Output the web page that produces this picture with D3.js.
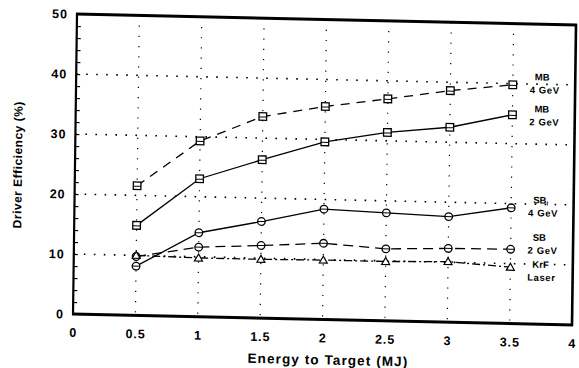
<!DOCTYPE html>
<html>
<head>
<meta charset="utf-8">
<script src="https://cdn.jsdelivr.net/npm/d3@7"></script>
<style>
body { margin: 0; background: #fff; }
text { font-family: "Liberation Sans", Arial, sans-serif; font-weight: bold; fill: #000; }
</style>
</head>
<body>
<div id="chart"></div>
<script>
// values
const energy = [0.5, 1, 1.5, 2, 2.5, 3, 3.5];
const mb4 = [21.6, 29.3, 33.6, 35.5, 37.0, 38.6, 39.8];
const mb2 = [15.0, 23.0, 26.4, 29.6, 31.4, 32.5, 34.8];
const sb4 = [8.2, 14.0, 16.1, 18.4, 18.0, 17.6, 19.3];
const sb2 = [9.8, 11.6, 12.1, 12.7, 12.0, 12.3, 12.4];
const krf = [10.0, 9.8, 9.8, 9.9, 9.9, 10.1, 9.4];
const xTicks = [0, 0.5, 1, 1.5, 2, 2.5, 3, 3.5, 4];
const yTicks = [0, 10, 20, 30, 40, 50];
const gridX = [0.5, 1, 1.5, 2, 2.5, 3, 3.5];
const gridY = [10, 20, 30, 40];

const series = [
    {values: mb4, label: ["MB", "4 GeV"], dash: "9,7", marker: "square"},
    {values: mb2, label: ["MB", "2 GeV"], dash: null, marker: "square"},
    {values: sb4, label: ["SB", "4 GeV"], sub: "I", dash: null, marker: "circle"},
    {values: sb2, label: ["SB", "2 GeV"], dash: "10,6", marker: "circle"},
    {values: krf, label: ["KrF", "Laser"], dash: "8,3,2,3", marker: "triangle"}
];
// nudges for the right hand labels (relative to the last point)
const labelShift = [-8, -6, -8, -12, -3];

const width = 499, height = 300;

const svg = d3.select("#chart").append("svg")
    .attr("width", 579)
    .attr("height", 368);

// the scan is slightly skewed, so the whole frame is too
const g = svg.append("g")
    .attr("transform", "matrix(1,0.022,-0.0133,1,77,14)");

const x = d3.scaleLinear().domain([0, 4]).range([0, width]);
const y = d3.scaleLinear().domain([0, 50]).range([height, 0]);

// dotted grid
g.selectAll(".hgrid")
    .data(gridY)
    .enter().append("line")
    .attr("class", "hgrid")
    .attr("x1", 0).attr("x2", width)
    .attr("y1", d => y(d)).attr("y2", d => y(d))
    .attr("stroke", "#000")
    .attr("stroke-width", 1.6)
    .attr("stroke-dasharray", "1.6,8.4");

g.selectAll(".vgrid")
    .data(gridX)
    .enter().append("line")
    .attr("class", "vgrid")
    .attr("x1", d => x(d)).attr("x2", d => x(d))
    .attr("y1", 0).attr("y2", height)
    .attr("stroke", "#000")
    .attr("stroke-width", 1.2)
    .attr("stroke-dasharray", "1.2,9");

// minor ticks on the left axis
const minor = d3.range(2, 50, 2);
g.append("g")
    .call(d3.axisLeft(y).tickValues(minor).tickSize(-4).tickFormat(""))
    .call(a => a.select(".domain").remove())
    .selectAll("line").attr("stroke-width", 1.2);

// tick labels
g.append("g")
    .attr("transform", "translate(0," + height + ")")
    .call(d3.axisBottom(x).tickValues(xTicks).tickSize(0).tickPadding(14).tickFormat(d3.format("")))
    .call(a => a.select(".domain").remove())
    .selectAll("text")
    .attr("font-family", null)
    .style("font-size", "12.5px")
    .style("letter-spacing", "1px");

g.append("g")
    .call(d3.axisLeft(y).tickValues(yTicks).tickSize(0).tickPadding(9))
    .call(a => a.select(".domain").remove())
    .selectAll("text")
    .attr("font-family", null)
    .style("font-size", "12.5px")
    .style("letter-spacing", "1px");

// frame
g.append("line").attr("x1", 0).attr("x2", 0).attr("y1", -1).attr("y2", height + 1)
    .attr("stroke", "#000").attr("stroke-width", 2.2);
g.append("line").attr("x1", -1).attr("x2", width + 1).attr("y1", height).attr("y2", height)
    .attr("stroke", "#000").attr("stroke-width", 3);
g.append("line").attr("x1", -1).attr("x2", width + 1).attr("y1", 0).attr("y2", 0)
    .attr("stroke", "#000").attr("stroke-width", 3);
g.append("line").attr("x1", width).attr("x2", width).attr("y1", -1).attr("y2", height + 1)
    .attr("stroke", "#000").attr("stroke-width", 2.6);

// series lines and markers
let line = d3.line()
    .x((d, i) => x(energy[i]))
    .y(d => y(d));

series.forEach(function(s, k){
    g.append("path")
        .datum(s.values)
        .attr("d", line)
        .attr("fill", "none")
        .attr("stroke", "#000")
        .attr("stroke-width", 1.3)
        .attr("stroke-dasharray", s.dash);

    let pts = g.selectAll(".m" + k)
        .data(s.values)
        .enter().append("g")
        .attr("class", "m" + k)
        .attr("transform", (d, i) => "translate(" + x(energy[i]) + "," + y(d) + ")");

    if (s.marker == "square") {
        pts.append("rect")
            .attr("x", -3.8).attr("y", -3.8).attr("width", 7.6).attr("height", 7.6)
            .attr("fill", "#fff").attr("stroke", "#000").attr("stroke-width", 1.3);
        pts.append("line").attr("x1", -3.8).attr("x2", 3.8).attr("y1", 0.5).attr("y2", 0.5)
            .attr("stroke", "#000").attr("stroke-width", 1);
    } else if (s.marker == "circle") {
        pts.append("circle").attr("r", 3.8)
            .attr("fill", "#fff").attr("stroke", "#000").attr("stroke-width", 1.3);
        pts.append("line").attr("x1", -3.8).attr("x2", 3.8).attr("y1", 0).attr("y2", 0)
            .attr("stroke", "#000").attr("stroke-width", 1);
    } else {
        pts.append("path").attr("d", "M-4,3 L0,-4 L4,3 Z")
            .attr("fill", "#fff").attr("stroke", "#000").attr("stroke-width", 1.2);
    }

    // label at the right end
    let ly = y(s.values[s.values.length - 1]) + labelShift[k];
    let t1 = g.append("text")
        .attr("x", x(3.5) + 22)
        .attr("y", ly + 3)
        .style("font-size", "9.5px")
        .text(s.label[0]);
    if (s.sub) {
        t1.append("tspan").attr("dy", 2).style("font-size", "6px").text(s.sub);
    }
    g.append("text")
        .attr("x", x(3.5) + 17)
        .attr("y", ly + 16)
        .style("font-size", "9.5px")
        .style("letter-spacing", "0.6px")
        .text(s.label[1]);
});

// axis titles
g.append("text")
    .attr("x", x(2) + 6)
    .attr("y", height + 45)
    .attr("text-anchor", "middle")
    .style("font-size", "13.5px")
    .style("letter-spacing", "1.1px")
    .text("Energy to Target  (MJ)");

g.append("text")
    .attr("transform", "translate(-53," + (height / 2 + 2) + ") rotate(-90)")
    .attr("text-anchor", "middle")
    .style("font-size", "12px")
    .style("letter-spacing", "0.5px")
    .text("Driver Efficiency  (%)");
</script>
</body>
</html>
